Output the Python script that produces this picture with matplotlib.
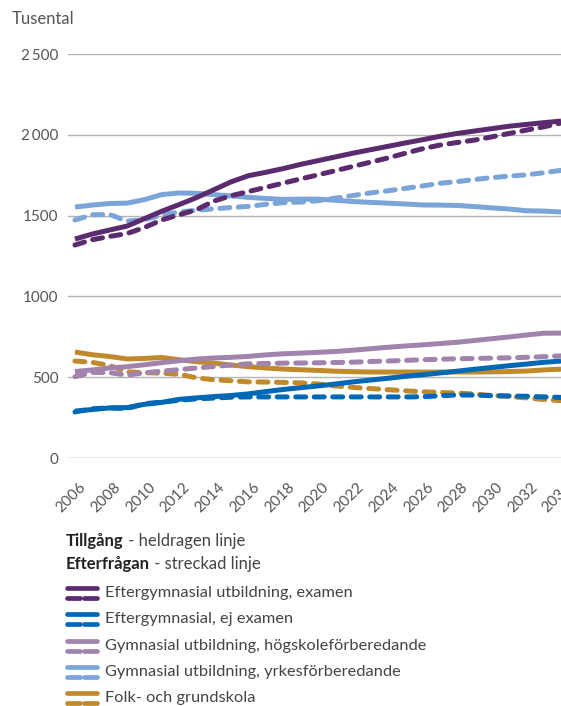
import matplotlib
matplotlib.use("Agg")
import matplotlib.pyplot as plt
from matplotlib.transforms import ScaledTranslation

plt.rcParams['font.family'] = ['Lato', 'DejaVu Sans']

# tusental personer, tillgång (heldragen) och efterfrågan (streckad)
years = list(range(2006, 2035))

examen_tillgang = [1355, 1386, 1411, 1435, 1481, 1527, 1568, 1611, 1660, 1709, 1747, 1768, 1791, 1817, 1840,
                   1863, 1886, 1907, 1928, 1949, 1969, 1990, 2008, 2023, 2038, 2053, 2064, 2075, 2085]
examen_efterfragan = [1318, 1351, 1371, 1389, 1426, 1473, 1505, 1536, 1590, 1623, 1649, 1675, 1701, 1727, 1752,
                      1778, 1804, 1830, 1856, 1885, 1913, 1936, 1952, 1967, 1987, 2008, 2029, 2049, 2073]
ejexamen_tillgang = [290, 300, 310, 312, 332, 344, 363, 372, 380, 387, 397, 411, 424, 435, 446,
                     458, 471, 482, 493, 505, 515, 526, 537, 549, 560, 571, 581, 592, 600]
ejexamen_efterfragan = [285, 305, 310, 306, 336, 346, 357, 366, 371, 376, 378, 378, 378, 378, 378,
                        378, 378, 378, 378, 378, 379, 385, 390, 389, 386, 384, 382, 378, 375]
hogskole_tillgang = [535, 545, 557, 565, 577, 590, 602, 612, 619, 623, 629, 638, 645, 649, 654,
                     659, 667, 676, 685, 693, 700, 708, 716, 727, 738, 749, 761, 772, 773]
hogskole_efterfragan = [503, 530, 528, 513, 527, 537, 547, 557, 566, 575, 583, 585, 587, 588, 589,
                        591, 593, 597, 600, 604, 608, 611, 614, 616, 618, 620, 623, 627, 632]
yrkes_tillgang = [1553, 1565, 1575, 1577, 1599, 1630, 1640, 1638, 1630, 1622, 1613, 1606, 1600, 1602, 1602,
                  1595, 1587, 1582, 1577, 1572, 1566, 1565, 1563, 1556, 1548, 1541, 1530, 1528, 1522]
yrkes_efterfragan = [1473, 1505, 1507, 1466, 1474, 1504, 1522, 1533, 1542, 1550, 1557, 1570, 1580, 1584, 1592,
                     1608, 1624, 1640, 1653, 1668, 1683, 1700, 1710, 1723, 1735, 1744, 1752, 1765, 1780]
grund_tillgang = [656, 639, 628, 613, 616, 622, 608, 596, 587, 575, 565, 557, 550, 546, 542,
                  537, 534, 532, 532, 532, 532, 532, 532, 532, 533, 535, 538, 545, 550]
grund_efterfragan = [600, 592, 572, 533, 528, 525, 518, 496, 484, 478, 471, 470, 468, 465, 458,
                     446, 437, 430, 423, 416, 410, 406, 402, 396, 387, 381, 372, 362, 355]

labels = ["Eftergymnasial utbildning, examen",
          "Eftergymnasial, ej examen",
          "Gymnasial utbildning, högskoleförberedande",
          "Gymnasial utbildning, yrkesförberedande",
          "Folk- och grundskola"]
colors = ["#5c2a6e", "#0068b4", "#a283ae", "#7ba4d8", "#c08a2c"]
tillgang = [examen_tillgang, ejexamen_tillgang, hogskole_tillgang, yrkes_tillgang, grund_tillgang]
efterfragan = [examen_efterfragan, ejexamen_efterfragan, hogskole_efterfragan, yrkes_efterfragan,
               grund_efterfragan]

yticks = [0, 500, 1000, 1500, 2000, 2500]
ytick_labels = ["0", "500", "1000", "1500", "2\u2009000", "2\u2009500"]
xticks = list(range(2006, 2035, 2))

fig = plt.figure(figsize=(5.61, 7.06), dpi=100)
ax = fig.add_axes([68 / 561, 1 - 458 / 706, 1 - 68 / 561, (458 - 54) / 706])

for y in yticks:
    ax.axhline(y, color="#888888" if y == 0 else "#b4b4b4", lw=1.0, zorder=1)

# ritordning: grundskola underst
order = [4, 2, 3, 0, 1]
for i in order:
    ax.plot(years, tillgang[i], color=colors[i], lw=3.6, solid_capstyle="butt", zorder=2)
    ax.plot(years, efterfragan[i], color=colors[i], lw=3.6, linestyle=(0, (2.0, 1.7)),
            dash_capstyle="round", zorder=2)

ax.set_xlim(2005.6, 2034.0)
ax.set_ylim(0, 2500)
for s in ax.spines.values():
    s.set_visible(False)
ax.set_yticks(yticks)
ax.set_yticklabels(ytick_labels)
ax.set_xticks(xticks)
ax.set_xticklabels([str(x) for x in xticks], rotation=45, ha="right", va="top",
                   rotation_mode="anchor")
ax.tick_params(axis="both", length=0, labelsize=11, labelcolor="#555555")
ax.tick_params(axis="y", pad=7)
ax.tick_params(axis="x", pad=16)
off = ScaledTranslation(4 / 100, 0, fig.dpi_scale_trans)
for lab in ax.get_xticklabels():
    lab.set_transform(lab.get_transform() + off)

# text och förklaring i pixelkoordinater
lg = fig.add_axes([0, 0, 1, 1], zorder=-1)
lg.set_xlim(0, 561)
lg.set_ylim(706, 0)
lg.axis("off")

lg.text(12, 19, "Tusental", fontsize=12, color="#555555", va="center", ha="left")

renderer = fig.canvas.get_renderer()
for yy, bold, rest in [(541, "Tillgång", " - heldragen linje"), (564, "Efterfrågan", " - streckad linje")]:
    t = lg.text(66, yy, bold, fontsize=12, fontweight="bold", color="#222222", va="center", ha="left")
    bb = t.get_window_extent(renderer)
    x1 = lg.transData.inverted().transform((bb.x1, bb.y0))[0]
    lg.text(x1, yy, rest, fontsize=12, color="#444444", va="center", ha="left")

for k, (lab, c) in enumerate(zip(labels, colors)):
    yy = 593 + k * 26.3
    lg.plot([67, 97], [yy - 5, yy - 5], color=c, lw=3.4, solid_capstyle="round")
    lg.plot([67, 80], [yy + 5, yy + 5], color=c, lw=3.4, solid_capstyle="round")
    lg.plot([84, 97], [yy + 5, yy + 5], color=c, lw=3.4, solid_capstyle="round")
    lg.text(105, yy, lab, fontsize=11.8, color="#444444", va="center", ha="left")

fig.savefig("out.png", dpi=100)
